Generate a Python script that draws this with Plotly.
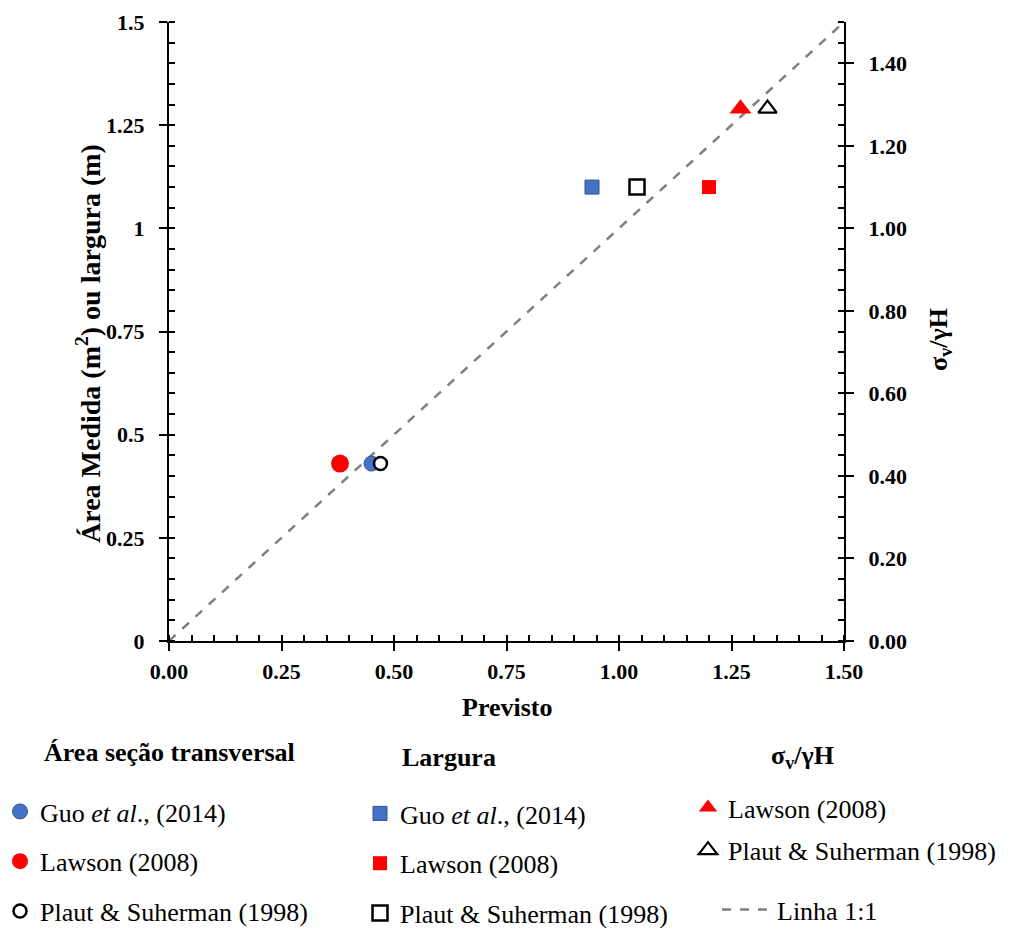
import plotly.graph_objects as go

# Área da seção transversal (Previsto x Medido)
area_names = ["Guo <i>et al</i>., (2014)", "Lawson (2008)", "Plaut & Suherman (1998)"]
area_prev = [0.45, 0.38, 0.47]
area_med = [0.43, 0.43, 0.43]

# Largura (Previsto x Medido)
larg_names = ["Guo <i>et al</i>., (2014)", "Lawson (2008)", "Plaut & Suherman (1998)"]
larg_prev = [0.94, 1.20, 1.04]
larg_med = [1.10, 1.10, 1.10]

# Tensão vertical normalizada (eixo secundário)
sig_names = ["Lawson (2008)", "Plaut & Suherman (1998)"]
sig_prev = [1.27, 1.33]
sig_med = [1.29, 1.29]

# Linha 1:1
linha_x = [0.0, 1.5]
linha_y = [0.0, 1.5]

y_ticks = [0, 0.25, 0.5, 0.75, 1, 1.25, 1.5]
y_ticktext = ["0", "0.25", "0.5", "0.75", "1", "1.25", "1.5"]

BLUE = "#4472C4"
BLUE_EDGE = "#2F528F"
RED = "#FF0000"
FONT = "Liberation Serif"

W, H = 1014, 928
L, R, T, B = 169, 170, 22, 287
PW, PH = W - L - R, H - T - B


def px(xp):
    return (xp - L) / PW


def py(yp):
    return (H - B - yp) / PH


fig = go.Figure()

# linha 1:1
fig.add_trace(go.Scatter(
    x=linha_x, y=linha_y, mode="lines", name="Linha 1:1",
    line=dict(color="#808080", width=2.5, dash="dash"),
    legend="legend4", legendgroup="l1",
))

# área seção transversal
area_styles = [
    dict(symbol="circle", size=15, color=BLUE, line=dict(color=BLUE_EDGE, width=1)),
    dict(symbol="circle", size=18, color=RED, line=dict(color=RED, width=0)),
    dict(symbol="circle", size=13, color="white", line=dict(color="black", width=2.5)),
]
draw_order = [1, 0, 2]
for i in draw_order:
    fig.add_trace(go.Scatter(
        x=[area_prev[i]], y=[area_med[i]], mode="markers", name=area_names[i],
        marker=area_styles[i], legend="legend", legendgroup=f"a{i}",
        legendrank=i + 1,
    ))

# largura
larg_styles = [
    dict(symbol="square", size=14, color=BLUE, line=dict(color=BLUE_EDGE, width=1)),
    dict(symbol="square", size=14, color=RED, line=dict(color=RED, width=0)),
    dict(symbol="square", size=15, color="white", line=dict(color="black", width=2.5)),
]
for i in range(3):
    fig.add_trace(go.Scatter(
        x=[larg_prev[i]], y=[larg_med[i]], mode="markers", name=larg_names[i],
        marker=larg_styles[i], legend="legend2", legendgroup=f"b{i}",
    ))

# sigma_v / gamma H no eixo secundário
sig_styles = [
    dict(symbol="triangle-up", size=19, color=RED, line=dict(color=RED, width=0)),
    dict(symbol="triangle-up", size=16, color="white", line=dict(color="black", width=2.2)),
]
for i in range(2):
    fig.add_trace(go.Scatter(
        x=[sig_prev[i]], y=[sig_med[i]], mode="markers", name=sig_names[i],
        marker=sig_styles[i], yaxis="y2", legend="legend3", legendgroup=f"c{i}",
    ))

tickfont = dict(family=FONT, size=22, color="black", weight="bold")
titlefont = dict(family=FONT, size=26, color="black", weight="bold")
minor_common = dict(ticks="inside", ticklen=6, tickwidth=1.5, tickcolor="black")
axis_common = dict(
    range=[0, 1.5], showgrid=False, zeroline=False,
    showline=True, linecolor="black", linewidth=2,
    ticks="outside", ticklen=8, tickwidth=2, tickcolor="black",
    minor=dict(dtick=0.05, **minor_common), tickfont=tickfont,
)

leg_common = dict(
    xref="container", yref="container", xanchor="left", yanchor="top",
    font=dict(family=FONT, size=26, color="black"),
    bgcolor="rgba(0,0,0,0)", traceorder="grouped",
)


def label(text, x, y, angle=0, size=26):
    return dict(text=text, x=px(x), y=py(y), xref="paper", yref="paper",
                showarrow=False, xanchor="center", yanchor="middle",
                textangle=angle, font=dict(titlefont, size=size))


fig.update_layout(
    width=W, height=H,
    paper_bgcolor="white", plot_bgcolor="white",
    margin=dict(l=L, r=R, t=T, b=B, autoexpand=False),
    xaxis=dict(dtick=0.25, tick0=0, tickformat=".2f", ticklabelstandoff=2, **axis_common),
    yaxis=dict(tickvals=y_ticks, ticktext=y_ticktext, ticklabelstandoff=10, **axis_common),
    yaxis2=dict(dtick=0.2, tick0=0, tickformat=".2f", overlaying="y", side="right",
                ticklabelstandoff=10, **axis_common),
    legend=dict(x=0.0, y=1 - 788 / H, tracegroupgap=13, **leg_common),
    legend2=dict(x=360 / W, y=1 - 790 / H, tracegroupgap=13, **leg_common),
    legend3=dict(x=688 / W, y=1 - 784 / H, tracegroupgap=6, **leg_common),
    legend4=dict(x=717 / W, y=1 - 886 / H, itemwidth=50, **leg_common),
    annotations=[
        # títulos dos eixos
        label("Previsto", 507, 707),
        label("Área Medida (m<sup>2</sup>) ou largura (m)", 88, 344, -90, 28),
        label("σ<sub>v</sub>/γH", 940, 340, -90),
        # cabeçalhos da legenda
        label("Área seção transversal", 169, 752),
        label("Largura", 449, 757),
        label("σ<sub>v</sub>/γH", 802, 757),
    ],
)

fig.write_html("out.html")
